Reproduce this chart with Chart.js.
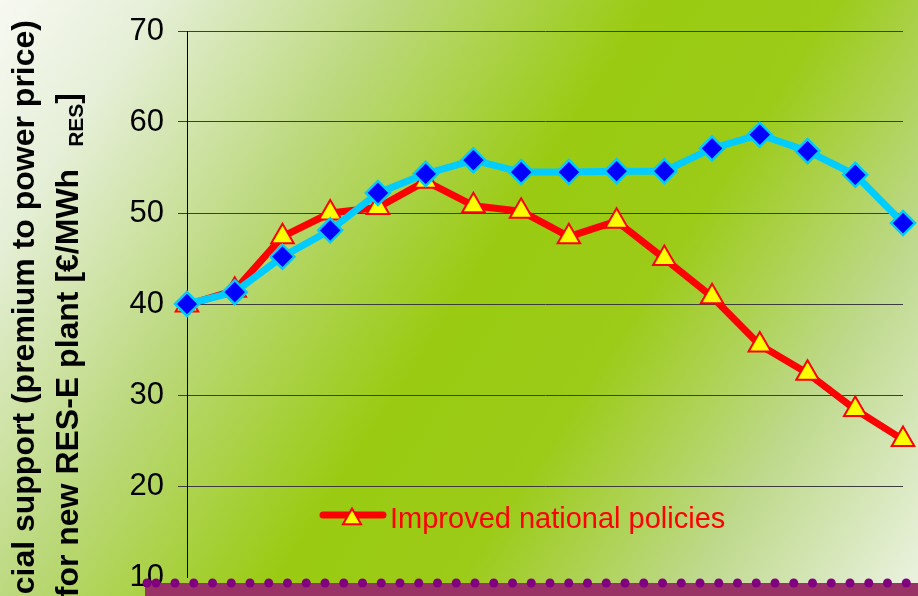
<!DOCTYPE html>
<html>
<head>
<meta charset="utf-8">
<script src="https://cdn.jsdelivr.net/npm/chart.js@4.4.1/dist/chart.umd.min.js"></script>
<style>
  html, body { margin: 0; padding: 0; background: #fff; }
  #wrap { width: 918px; height: 596px; position: relative; }
</style>
</head>
<body>
<div id="wrap"><canvas id="chart" width="918" height="596"></canvas></div>
<script>
// Data
const years = ['2005', '2006', '2007', '2008', '2009', '2010', '2011', '2012',
               '2013', '2014', '2015', '2016', '2017', '2018', '2019', '2020'];
const improvedPolicies = [39.9, 41.5, 47.4, 50.0, 50.6, 53.5, 50.8, 50.2,
                          47.4, 49.1, 45.0, 40.8, 35.5, 32.4, 28.4, 25.1];
const referenceCase = [40.0, 41.3, 45.2, 48.1, 52.2, 54.3, 55.8, 54.5,
                       54.5, 54.6, 54.6, 57.1, 58.6, 56.8, 54.2, 48.9];
const yMin = 10;
const yMax = 70;
const yStep = 10;

const axisTitle1 = 'Financial support (premium to power price)';
const axisTitle2 = 'for new RES-E plant [€/MWh';
const axisTitleSub = 'RES';

const FONT = "'Liberation Sans', Arial, sans-serif";

// slide background
const backgroundPlugin = {
    id: 'slideBackground',
    beforeDraw(chart) {
        const ctx = chart.ctx;
        const w = chart.width, h = chart.height;
        const g = ctx.createLinearGradient(0, 0, w, h);
        g.addColorStop(0, '#f7f9f2');
        g.addColorStop(0.12, '#e6efd8');
        g.addColorStop(0.3, '#bcd97e');
        g.addColorStop(0.5, '#9acb12');
        g.addColorStop(0.64, '#9ccb18');
        g.addColorStop(0.82, '#bed98c');
        g.addColorStop(1, '#ecf3e2');
        ctx.save();
        ctx.fillStyle = g;
        ctx.fillRect(0, 0, w, h);
        ctx.restore();
    }
};

// rotated y title, legend and the purple footer strip
const overlayPlugin = {
    id: 'overlay',
    afterDraw(chart) {
        const ctx = chart.ctx;
        ctx.save();

        // axis title, anchored at its top end
        ctx.fillStyle = '#000';
        ctx.textBaseline = 'alphabetic';
        ctx.save();
        ctx.translate(34, 20);
        ctx.rotate(-Math.PI / 2);
        ctx.font = 'bold 32px ' + FONT;
        ctx.textAlign = 'right';
        ctx.fillText(axisTitle1, 0, 0);
        ctx.restore();

        ctx.save();
        ctx.translate(78, 93);
        ctx.rotate(-Math.PI / 2);
        ctx.textAlign = 'right';
        ctx.font = 'bold 32px ' + FONT;
        const wBr = ctx.measureText(']').width;
        ctx.fillText(']', 0, 0);
        ctx.font = 'bold 21px ' + FONT;
        const wSub = ctx.measureText(axisTitleSub).width;
        ctx.fillText(axisTitleSub, -wBr, 5);
        ctx.font = 'bold 32px ' + FONT;
        ctx.fillText(axisTitle2, -wBr - wSub - 22, 0);
        ctx.restore();

        // legend entry for the red series
        const ds = chart.data.datasets[0];
        const ly = 515;
        ctx.strokeStyle = ds.borderColor;
        ctx.lineWidth = 7;
        ctx.lineCap = 'round';
        ctx.beginPath();
        ctx.moveTo(323, ly);
        ctx.lineTo(383, ly);
        ctx.stroke();
        ctx.lineCap = 'butt';
        ctx.fillStyle = ds.pointBackgroundColor;
        ctx.strokeStyle = ds.pointBorderColor;
        ctx.lineWidth = 2;
        ctx.beginPath();
        const r = 10.5, cx = 352, cy = 519;
        ctx.moveTo(cx, cy - r);
        ctx.lineTo(cx + r * 0.866, cy + r / 2);
        ctx.lineTo(cx - r * 0.866, cy + r / 2);
        ctx.closePath();
        ctx.fill();
        ctx.stroke();
        ctx.fillStyle = '#ff0000';
        ctx.font = '29px ' + FONT;
        ctx.textAlign = 'left';
        ctx.fillText(ds.label, 390, 528);

        // footer strip
        ctx.fillStyle = '#993366';
        ctx.fillRect(145, 583, chart.width - 145, 13);
        ctx.fillStyle = '#800080';
        const dots = [147, 156];
        for (let x = 175; x < chart.width; x += 18.75) dots.push(x);
        dots.forEach(x => {
            ctx.beginPath();
            ctx.arc(x, 583, 4.5, 0, Math.PI * 2);
            ctx.fill();
        });

        ctx.restore();
    }
};

const ctx = document.getElementById('chart').getContext('2d');

new Chart(ctx, {
    type: 'line',
    data: {
        labels: years,
        datasets: [{
            label: 'Improved national policies',
            data: improvedPolicies,
            borderColor: '#ff0000',
            borderWidth: 7,
            borderJoinStyle: 'round',
            pointStyle: 'triangle',
            pointRadius: 13,
            pointBackgroundColor: '#ffff00',
            pointBorderColor: '#ff0000',
            pointBorderWidth: 2,
            tension: 0,
            order: 1
        }, {
            label: 'Reference',
            data: referenceCase,
            borderColor: '#00ccff',
            borderWidth: 7,
            borderJoinStyle: 'round',
            pointStyle: 'rectRot',
            pointRadius: 12,
            pointBackgroundColor: '#0000ff',
            pointBorderColor: '#00ccff',
            pointBorderWidth: 2.5,
            tension: 0,
            order: 0
        }]
    },
    options: {
        responsive: false,
        animation: false,
        layout: {
            padding: { top: 31, right: 14, bottom: 19, left: 0 }
        },
        plugins: {
            legend: { display: false },
            tooltip: { enabled: false }
        },
        scales: {
            x: {
                display: false
            },
            y: {
                min: yMin,
                max: yMax,
                afterFit(scale) {
                    scale.width = 187;
                    scale.paddingTop = 0;
                    scale.paddingBottom = 0;
                },
                ticks: {
                    stepSize: yStep,
                    color: '#000',
                    padding: 14,
                    font: { family: FONT, size: 31 }
                },
                grid: {
                    color: (c) => (c.tick && c.tick.value === yMin) ? 'rgba(0,0,0,0)' : '#3c3c3c',
                    lineWidth: 1,
                    tickLength: 9
                },
                border: {
                    display: true,
                    color: '#000',
                    width: 1
                }
            }
        }
    },
    plugins: [backgroundPlugin, overlayPlugin]
});
</script>
</body>
</html>
